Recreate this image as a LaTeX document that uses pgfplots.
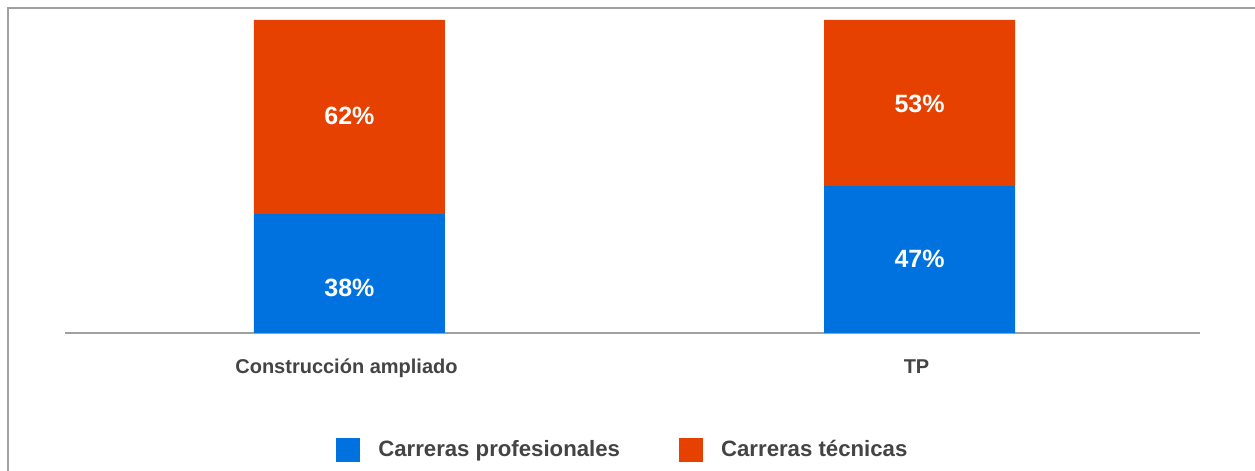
\documentclass[border=0pt]{standalone}
\usepackage{pgfplots}
\pgfplotsset{compat=1.18}
\usepackage{fontspec}
\setmainfont{Liberation Sans}
\definecolor{cblue}{RGB}{0,114,224}
\definecolor{corange}{RGB}{230,65,0}
\definecolor{ctext}{RGB}{68,68,68}
\definecolor{cline}{RGB}{160,160,160}
\begin{document}
\begin{tikzpicture}
\useasboundingbox (0,0) rectangle (627.5pt,235.5pt);
\draw[cline, line width=1pt] (4pt,0) -- (4pt,231.5pt) -- (627.5pt,231.5pt);
\begin{axis}[
  at={(32.5pt,69pt)}, anchor=south west,
  scale only axis,
  width=567.5pt, height=156.5pt,
  ybar stacked, bar width=95.5pt,
  xmin=-0.499, xmax=1.492, ymin=0, ymax=100,
  axis x line=bottom, axis y line=none,
  axis line style={-, draw=cline, line width=0.75pt},
  xtick=data, xticklabels={Construcción ampliado, TP},
  xtick style={draw=none}, ytick=\empty,
  xticklabel style={font=\fontsize{10}{12}\selectfont\bfseries, text=ctext, anchor=base, yshift=-18pt, xshift=-1.5pt},
  legend columns=2,
  legend style={draw=none, fill=none, at={(0.4924,-0.374)}, anchor=center,
    font=\fontsize{11.1}{13}\selectfont\bfseries, text=ctext,
    /tikz/every even column/.append style={column sep=27.5pt},
    /tikz/every odd column/.append style={column sep=7pt}},
  legend image code/.code={\fill[#1] (0pt,-5.9pt) rectangle (12pt,5.9pt);},
]
\addplot[fill=cblue, draw=none] coordinates {(0,38) (1,47)};
\addplot[fill=corange, draw=none] coordinates {(0,62) (1,53)};
\legend{Carreras profesionales, Carreras técnicas}
\coordinate (l1) at (axis cs:0,11.8);
\coordinate (l2) at (axis cs:0,66.5);
\coordinate (l3) at (axis cs:1,20.8);
\coordinate (l4) at (axis cs:1,70.3);
\end{axis}
\tikzset{lab/.style={anchor=base, text=white, font=\fontsize{12.5}{14}\selectfont\bfseries}}
\node[lab] at (l1) {38\%};
\node[lab] at (l2) {62\%};
\node[lab] at (l3) {47\%};
\node[lab] at (l4) {53\%};
\end{tikzpicture}
\end{document}
